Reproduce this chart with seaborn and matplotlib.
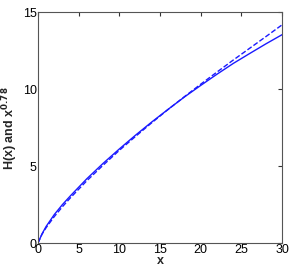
import matplotlib
matplotlib.use("Agg")
import matplotlib.pyplot as plt
import seaborn as sns

# values
x = [0, 0.5, 1, 2, 3, 4, 6, 8, 10, 12, 14, 16, 18, 20, 22, 24, 26, 28, 30]
h = [0, 0.6, 1.08, 1.85, 2.5, 3.08, 4.18, 5.18, 6.12, 7.02, 7.88, 8.7, 9.5, 10.25, 10.98, 11.68, 12.32, 12.95, 13.55]
pw = [0, 0.58, 1.0, 1.72, 2.36, 2.95, 4.05, 5.06, 6.03, 6.94, 7.83, 8.69, 9.52, 10.33, 11.12, 11.9, 12.66, 13.42, 14.19]

sns.set_style("white")
plt.rcParams["font.family"] = ["Liberation Sans", "DejaVu Sans"]

fig = plt.figure(figsize=(2.92, 2.75), dpi=100)
ax = fig.add_axes([0.13, 0.116, 0.836, 0.839])

sns.lineplot(x=x, y=h, ax=ax, color="#1a1aff", linewidth=1.0)
sns.lineplot(x=x, y=pw, ax=ax, color="#1a1aff", linewidth=1.0, linestyle="--", dashes=(3, 2))

ax.set_xlim(0, 30)
ax.set_ylim(0, 15)
ax.set_xticks([0, 5, 10, 15, 20, 25, 30])
ax.set_yticks([0, 5, 10, 15])
ax.tick_params(direction="in", length=3, labelsize=9, colors="#333333", top=True, right=True,
               labelcolor="black", pad=1)
for s in ax.spines.values():
    s.set_color("#555555")
    s.set_linewidth(0.8)

ax.set_xlabel("x", fontsize=9, fontweight="bold", labelpad=-1)
ax.set_ylabel(r"H(x) and x$^{\mathbf{0.78}}$", fontsize=9, fontweight="bold", labelpad=2)

fig.savefig("out.png", dpi=100)
